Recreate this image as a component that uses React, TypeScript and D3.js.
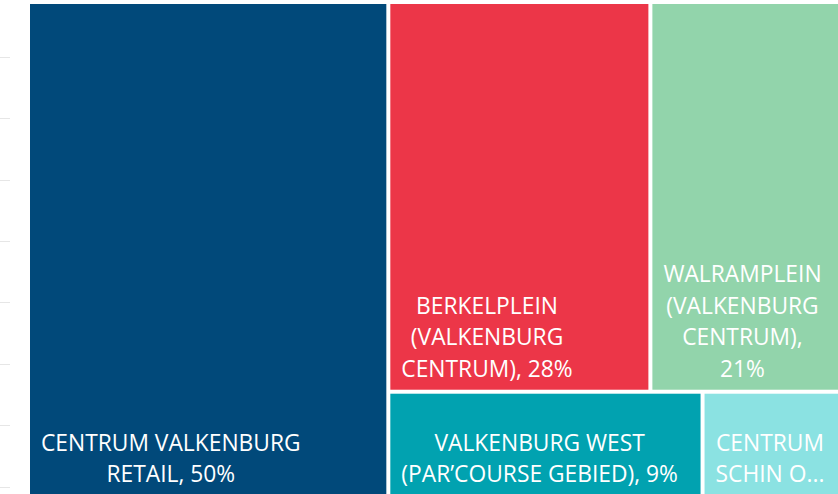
import React, { useEffect, useRef } from "react";
import * as d3 from "d3";

const categories = [
  "CENTRUM VALKENBURG RETAIL",
  "BERKELPLEIN (VALKENBURG CENTRUM)",
  "WALRAMPLEIN (VALKENBURG CENTRUM)",
  "VALKENBURG WEST (PAR\u2019COURSE GEBIED)",
  "CENTRUM SCHIN OP GEUL",
];
const shares = [49.6, 28.4, 21.2, 9.2, 4.2];
const colors = ["#01497a", "#ec3648", "#92d4ab", "#01a2b0", "#8be2e2"];
const sideTicks = [0, 1, 2, 3, 4, 5, 6, 7];

const W = 838;
const H = 494;
const FONT = "'Segoe UI', 'Open Sans', sans-serif";
const FS = 22.8;
const LH = 31.5;
const PAD = 11;

export default function App() {
  const ref = useRef<SVGSVGElement | null>(null);

  useEffect(() => {
    const svg = d3.select(ref.current);
    svg.selectAll("*").remove();

    // faint tick marks on the left edge
    const ty = d3.scaleLinear().domain([0, 7]).range([56.7, 486.7]);
    svg
      .append("g")
      .selectAll("line")
      .data(sideTicks)
      .join("line")
      .attr("x1", 0)
      .attr("x2", 10)
      .attr("y1", (d) => Math.round(ty(d)) + 0.5)
      .attr("y2", (d) => Math.round(ty(d)) + 0.5)
      .attr("stroke", "#e6e6e6")
      .attr("stroke-width", 1);

    const data = categories.map((c, i) => ({ name: c, value: shares[i], color: colors[i] }));
    const root = d3
      .hierarchy<any>({ children: data })
      .sum((d: any) => d.value || 0);

    d3
      .treemap<any>()
      .tile(d3.treemapSquarify.ratio(1))
      .size([814, 491])
      .paddingInner(4)
      .round(false)(root);

    const g = svg.append("g").attr("transform", "translate(30,4)");
    const leaves = root.leaves() as any[];

    g.selectAll("rect")
      .data(leaves)
      .join("rect")
      .attr("x", (d) => d.x0)
      .attr("y", (d) => d.y0)
      .attr("width", (d) => d.x1 - d.x0)
      .attr("height", (d) => d.y1 - d.y0)
      .attr("fill", (d) => d.data.color);

    // text measurement
    const meas = svg
      .append("text")
      .attr("font-family", FONT)
      .attr("font-size", FS)
      .attr("visibility", "hidden");
    const width = (s: string) => {
      meas.text(s);
      return (meas.node() as SVGTextElement).getComputedTextLength();
    };

    const fmt = d3.format(".0f");
    leaves.forEach((d) => {
      const label = `${d.data.name}, ${fmt(d.data.value)}%`;
      const visX1 = Math.min(d.x1, W - 30);
      const visY1 = Math.min(d.y1, H - 4);
      const avail = visX1 - d.x0 - 2 * PAD;
      const maxLines = Math.max(1, Math.floor((visY1 - d.y0 - 2 * PAD - FS) / LH) + 1);
      const words = label.split(" ");
      const lines: string[] = [];
      let cur = "";
      let idx = 0;
      for (; idx < words.length; idx++) {
        const w = words[idx];
        const test = cur ? cur + " " + w : w;
        if (width(test) <= avail || !cur) {
          cur = test;
        } else {
          if (lines.length === maxLines - 1) break;
          lines.push(cur);
          cur = w;
        }
      }
      if (idx < words.length) {
        let rest = [cur, ...words.slice(idx)].join(" ");
        while (rest.length > 0 && width(rest + "...") > avail) {
          rest = rest.slice(0, -1);
        }
        cur = rest.trimEnd() + "...";
      }
      lines.push(cur);
      const maxW = d3.max(lines, (l) => width(l)) || 0;
      const cx = d.x0 + PAD + maxW / 2;
      const baseLast = d.y1 - 13;
      const t = g
        .append("text")
        .attr("font-family", FONT)
        .attr("font-size", FS)
        .attr("fill", "#ffffff")
        .attr("text-anchor", "middle");
      lines.forEach((l, i) => {
        t.append("tspan")
          .attr("x", cx)
          .attr("y", baseLast - (lines.length - 1 - i) * LH)
          .text(l);
      });
    });
    meas.remove();
  }, []);

  return (
    <div style={{ position: "fixed", left: 0, top: 0, width: W, height: H, overflow: "hidden", background: "#fff" }}>
      <svg ref={ref} width={W} height={H} style={{ display: "block" }} />
    </div>
  );
}
